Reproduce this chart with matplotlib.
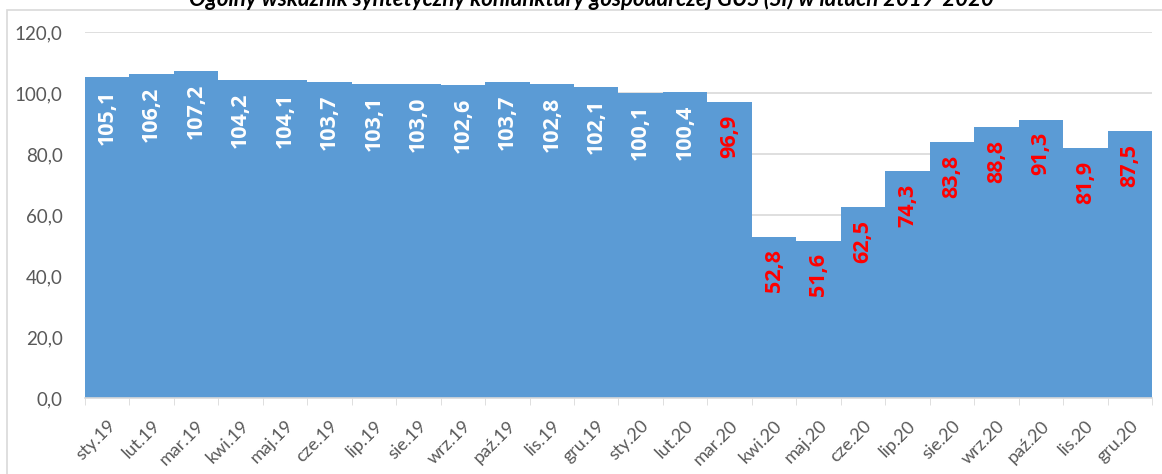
import numpy as np
import matplotlib.pyplot as plt
from matplotlib.patches import Rectangle
from matplotlib.transforms import ScaledTranslation

months = ["sty.19", "lut.19", "mar.19", "kwi.19", "maj.19", "cze.19", "lip.19", "sie.19",
          "wrz.19", "paź.19", "lis.19", "gru.19", "sty.20", "lut.20", "mar.20", "kwi.20",
          "maj.20", "cze.20", "lip.20", "sie.20", "wrz.20", "paź.20", "lis.20", "gru.20"]
values = [105.1, 106.2, 107.2, 104.2, 104.1, 103.7, 103.1, 103.0, 102.6, 103.7, 102.8, 102.1,
          100.1, 100.4, 96.9, 52.8, 51.6, 62.5, 74.3, 83.8, 88.8, 91.3, 81.9, 87.5]
n_white = 14  # labels from mar.20 onward are red

title = "Ogólny wskaźnik syntetyczny koniunktury gospodarczej GUS (SI) w latach 2019-2020"

plt.rcParams['font.family'] = ['Lato', 'DejaVu Sans']

fig = plt.figure(figsize=(11.62, 4.74), dpi=100)
fig.patches.append(Rectangle((0.006, -0.05), 1.1, 0.05 + 0.979, transform=fig.transFigure,
                             fill=False, edgecolor='#d9d9d9', linewidth=1.2))
fig.text(0.509, 0.988, title, ha='center', va='baseline', fontsize=16,
         fontweight='bold', fontstyle='italic')

ax = fig.add_axes([0.0731, 0.1603, 0.9183, 0.7722])
x = np.arange(len(values))
ax.bar(x, values, width=1.0, color='#5B9BD5', zorder=2)

for i, v in enumerate(values):
    col = 'white' if i < n_white else '#ff0000'
    ax.annotate(f"{v:.1f}".replace('.', ','), (i, v), xytext=(0, -9),
                textcoords='offset points', rotation=90, ha='center', va='top',
                color=col, fontsize=15.5, fontweight='bold', family='Open Sans', zorder=3)

ax.set_xlim(-0.5, len(values) - 0.5)
ax.set_ylim(0, 120)
ax.set_yticks(np.arange(0, 121, 20))
ax.set_yticklabels([f"{t:.1f}".replace('.', ',') for t in np.arange(0, 121, 20)])
ax.yaxis.grid(True, color='#d9d9d9', linewidth=1.2, zorder=0)
ax.set_axisbelow(True)

ax.set_xticks(x)
ax.set_xticklabels(months, rotation=45, ha='right', rotation_mode='anchor')
shift = ScaledTranslation(-7 / 72, 0, fig.dpi_scale_trans)
for lab in ax.get_xticklabels():
    lab.set_transform(lab.get_transform() + shift)
ax.set_xticks(np.arange(-0.5, len(values), 1), minor=True)
ax.tick_params(axis='x', which='major', length=0, labelsize=13, labelcolor='#595959', pad=14)
ax.tick_params(axis='x', which='minor', length=5, color='#d9d9d9')
ax.tick_params(axis='y', length=0, labelsize=13.5, labelcolor='#595959', pad=16)

for s in ['top', 'right', 'left']:
    ax.spines[s].set_visible(False)
ax.spines['bottom'].set_color('#d9d9d9')
ax.spines['bottom'].set_linewidth(1.2)

fig.savefig('out.png', dpi=100)
